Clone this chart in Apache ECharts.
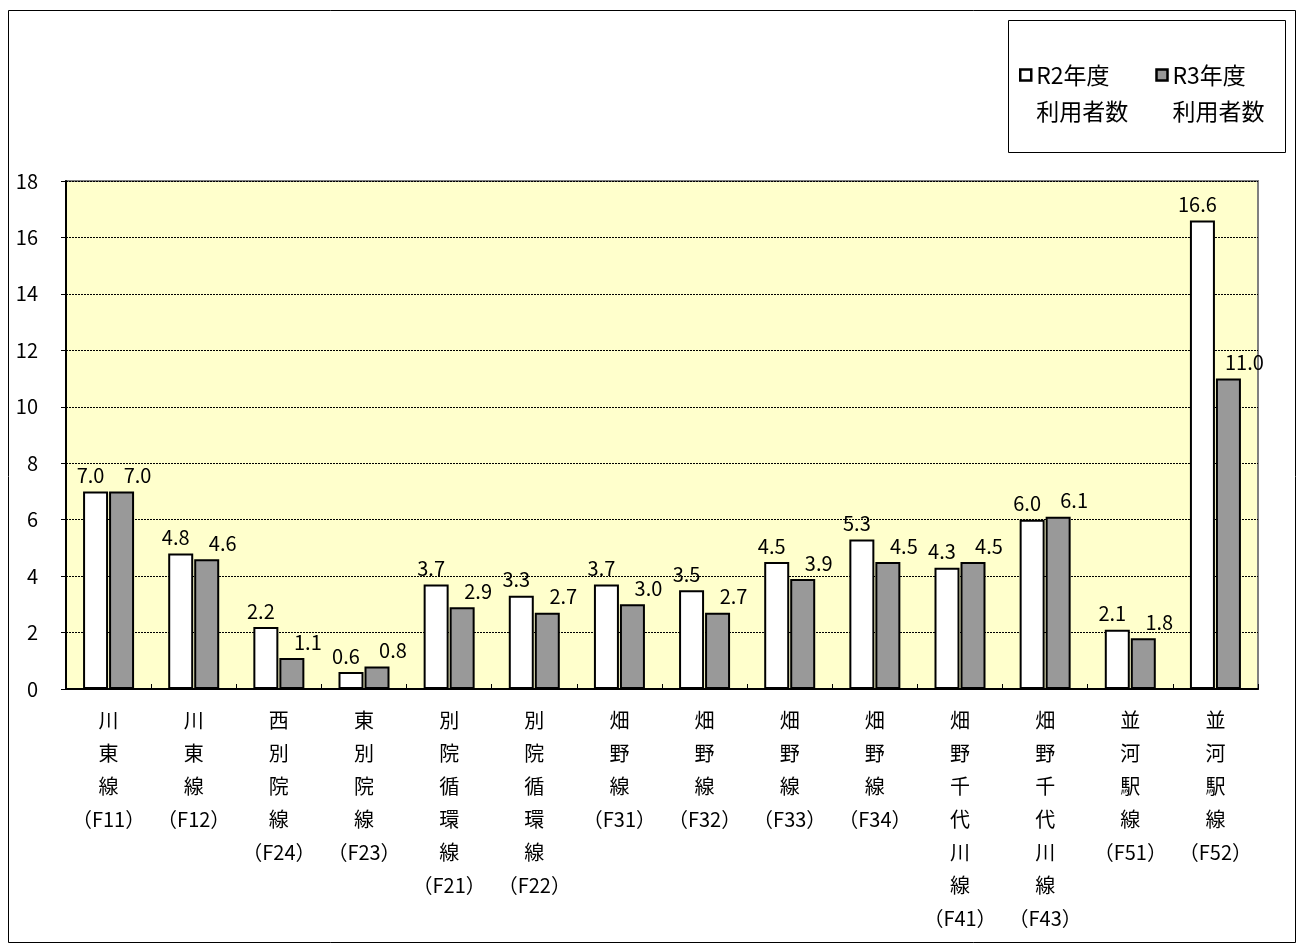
<!DOCTYPE html>
<html>
<head>
<meta charset="utf-8">
<script src="https://cdn.jsdelivr.net/npm/echarts@6/dist/echarts.min.js"></script>
<style>
html, body { margin: 0; padding: 0; background: #fff; }
#chart { width: 1300px; height: 945px; }
</style>
</head>
<body>
<div id="chart"></div>
<script>
// 路線（縦書きラベル）
var routes = [
    '川\n東\n線\n（F11）', '川\n東\n線\n（F12）', '西\n別\n院\n線\n（F24）', '東\n別\n院\n線\n（F23）',
    '別\n院\n循\n環\n線\n（F21）', '別\n院\n循\n環\n線\n（F22）', '畑\n野\n線\n（F31）', '畑\n野\n線\n（F32）',
    '畑\n野\n線\n（F33）', '畑\n野\n線\n（F34）', '畑\n野\n千\n代\n川\n線\n（F41）', '畑\n野\n千\n代\n川\n線\n（F43）',
    '並\n河\n駅\n線\n（F51）', '並\n河\n駅\n線\n（F52）'
];
var r2Users = [7.0, 4.8, 2.2, 0.6, 3.7, 3.3, 3.7, 3.5, 4.5, 5.3, 4.3, 6.0, 2.1, 16.6];
var r3Users = [7.0, 4.6, 1.1, 0.8, 2.9, 2.7, 3.0, 2.7, 3.9, 4.5, 4.5, 6.1, 1.8, 11.0];
var yTicks = [0, 2, 4, 6, 8, 10, 12, 14, 16, 18];

var fontJP = '"Noto Sans CJK JP", sans-serif';

var chart = echarts.init(document.getElementById('chart'));

var labelStyle = {
    show: true,
    position: 'top',
    fontFamily: fontJP,
    fontSize: 20,
    color: '#000',
    formatter: function (p) { return p.value.toFixed(1); }
};

var option = {
    animation: false,
    backgroundColor: '#fff',
    graphic: [
        {
            // 外枠
            type: 'rect',
            shape: { x: 8.5, y: 10.5, width: 1287, height: 932 },
            style: { fill: 'none', stroke: '#000', lineWidth: 1 },
            z: -1
        },
        {
            // 凡例枠
            type: 'rect',
            shape: { x: 1008.5, y: 20.5, width: 277, height: 132 },
            style: { fill: '#fff', stroke: '#000', lineWidth: 1 },
            z: -1
        }
    ],
    legend: {
        left: 1019,
        top: 21,
        orient: 'horizontal',
        itemGap: 27,
        itemWidth: 11,
        itemHeight: 11,
        padding: 0,
        icon: 'rect',
        data: [
            { name: 'R2年度\n利用者数', itemStyle: { color: '#fff', borderColor: '#000', borderWidth: 2.5 } },
            { name: 'R3年度\n利用者数', itemStyle: { color: '#999', borderColor: '#000', borderWidth: 2.5 } }
        ],
        // 先頭に空行を入れて、マーカーを1行目に揃える
        formatter: function (name) { return ' \n' + name; },
        textStyle: {
            fontFamily: fontJP,
            fontSize: 23,
            color: '#000',
            lineHeight: 36
        }
    },
    grid: {
        left: 66,
        right: 42,
        top: 181,
        bottom: 256,
        show: true,
        backgroundColor: '#ffffcc',
        borderColor: '#808080',
        borderWidth: 2
    },
    xAxis: {
        type: 'category',
        data: routes,
        axisLine: { lineStyle: { color: '#000', width: 2 } },
        axisTick: { show: true, inside: true, length: 5, lineStyle: { color: '#000' } },
        axisLabel: {
            interval: 0,
            margin: 15,
            fontFamily: fontJP,
            fontSize: 20,
            color: '#000',
            lineHeight: 33,
            verticalAlign: 'top'
        }
    },
    yAxis: {
        type: 'value',
        min: yTicks[0],
        max: yTicks[yTicks.length - 1],
        interval: 2,
        axisLine: { show: true, lineStyle: { color: '#000', width: 2 } },
        axisTick: { show: true, length: 5, lineStyle: { color: '#000' } },
        axisLabel: {
            margin: 28,
            fontFamily: fontJP,
            fontSize: 20,
            color: '#000'
        },
        splitLine: { lineStyle: { color: '#000', type: [2, 1], width: 1 } }
    },
    series: [
        {
            name: 'R2年度\n利用者数',
            type: 'bar',
            data: r2Users,
            barWidth: 25,
            barGap: '4%',
            itemStyle: { color: '#fff', borderColor: '#000', borderWidth: 2 },
            label: Object.assign({}, labelStyle, { offset: [-5, -1] })
        },
        {
            name: 'R3年度\n利用者数',
            type: 'bar',
            data: r3Users,
            barWidth: 25,
            itemStyle: { color: '#999', borderColor: '#000', borderWidth: 2 },
            label: Object.assign({}, labelStyle, { offset: [16, -1] })
        }
    ]
};

chart.setOption(option);
</script>
</body>
</html>
